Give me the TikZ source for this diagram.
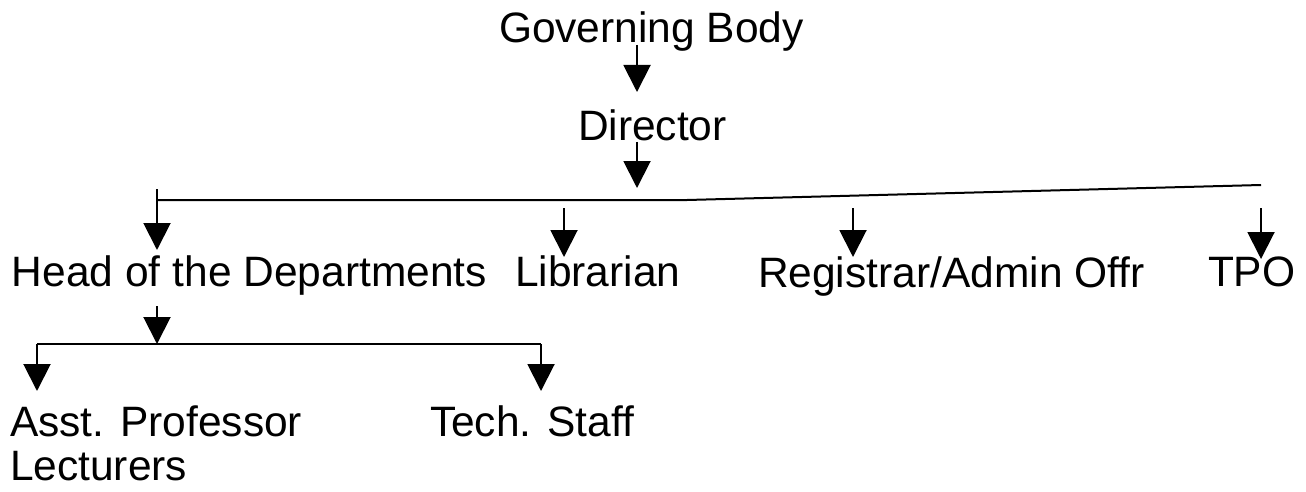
\documentclass[tikz,border=0pt]{standalone}
\usepackage{fontspec}
\setmainfont{Liberation Sans}
\usetikzlibrary{arrows.meta}
\begin{document}
\begin{tikzpicture}[x=1pt,y=-1pt,
  lbl/.style={inner sep=0pt,outer sep=0pt,anchor=base west,font=\fontsize{42.5}{44}\selectfont},
  conn/.style={line width=2pt},
  arr/.style={conn,-{Triangle[width=27pt,length=27pt]}}]
\useasboundingbox (0,0) rectangle (1306,492);
% nodes
\node[lbl] (gb)   at (499,43)  {Governing Body};
\node[lbl] (dir)  at (578,140) {Director};
\node[lbl] (hod)  at (12,286)  {Head of the Departments};
\node[lbl] (lib)  at (515,286) {Librarian};
\node[lbl] (reg)  at (758,287) {Registrar/Admin Offr};
\node[lbl] (tpo)  at (1208,286) {TPO};
\node[lbl,anchor=north west,align=left] (asst) at (10,406) {Asst. Professor\\Lecturers};
\node[lbl] (tech) at (430,436) {Tech. Staff};
% connector points
\coordinate (gbOut)  at (637,45);
\coordinate (dirIn)  at (637,92);
\coordinate (dirOut) at (637,142);
\coordinate (busIn)  at (637,188);
\coordinate (busL)   at (157,200);
\coordinate (busM)   at (687,200);
\coordinate (busR)   at (1261,185);
\coordinate (hodTop) at (157,189);
\coordinate (hodIn)  at (157,250);
\coordinate (libTop) at (564,208);
\coordinate (libIn)  at (564,257);
\coordinate (regTop) at (853,208);
\coordinate (regIn)  at (853,257);
\coordinate (tpoTop) at (1261,208);
\coordinate (tpoIn)  at (1261,259);
\coordinate (hodOut) at (157,306);
\coordinate (subIn)  at (157,344);
\coordinate (subL)   at (37,344);
\coordinate (subR)   at (541,344);
\coordinate (asstIn) at (37,391);
\coordinate (techIn) at (541,391);
% connectors
\draw[arr] (gbOut) -- (dirIn);
\draw[arr] (dirOut) -- (busIn);
\draw[conn] (busL) -- (busM) -- (busR);
\draw[arr] (hodTop) -- (hodIn);
\draw[arr] (libTop) -- (libIn);
\draw[arr] (regTop) -- (regIn);
\draw[arr] (tpoTop) -- (tpoIn);
\draw[arr] (hodOut) -- (subIn);
\draw[conn] (subL) -- (subR);
\draw[arr] (subL) -- (asstIn);
\draw[arr] (subR) -- (techIn);
\end{tikzpicture}
\end{document}
